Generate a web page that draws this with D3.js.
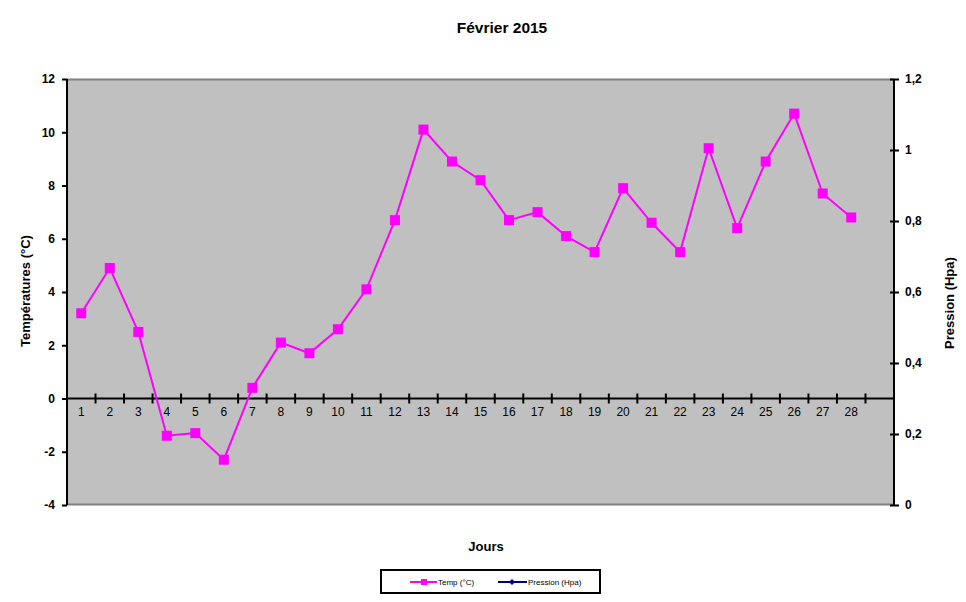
<!DOCTYPE html>
<html><head><meta charset="utf-8">
<script src="https://cdn.jsdelivr.net/npm/d3@7"></script>
<style>body{margin:0;background:#fff}svg{display:block}text{font-family:"Liberation Sans",Arial,sans-serif}</style>
</head><body>
<svg id="c" width="966" height="602"></svg>
<script>
const days = ["1","2","3","4","5","6","7","8","9","10","11","12","13","14","15","16","17","18","19","20","21","22","23","24","25","26","27","28",""];
const temp = [3.2,4.9,2.5,-1.4,-1.3,-2.3,0.4,2.1,1.7,2.6,4.1,6.7,10.1,8.9,8.2,6.7,7.0,6.1,5.5,7.9,6.6,5.5,9.4,6.4,8.9,10.7,7.7,6.8];
const pression = [];
const leftTicks = [-4,-2,0,2,4,6,8,10,12];
const rightTicks = [0,0.2,0.4,0.6,0.8,1,1.2];
const title = "Février 2015";

const svg = d3.select("#c");
const L=67,R=894,T=79,B=505;
const x = d3.scaleBand().domain(days.map((d,i)=>i)).range([L,R]);
const y = d3.scaleLinear().domain([-4,12]).range([B,T]);
const y2 = d3.scaleLinear().domain([0,1.2]).range([B,T]);

svg.append("rect").attr("x",L).attr("y",T).attr("width",R-L).attr("height",B-T).attr("fill","#c0c0c0");
svg.append("line").attr("x1",L).attr("x2",R).attr("y1",T+0.5).attr("y2",T+0.5).attr("stroke","#808080").attr("stroke-width",2);
svg.append("line").attr("x1",L).attr("x2",R).attr("y1",B-0.5).attr("y2",B-0.5).attr("stroke","#808080").attr("stroke-width",2);

// left axis
const gl = svg.append("g").attr("transform",`translate(${L},0)`)
  .call(d3.axisLeft(y).tickValues(leftTicks).tickSize(5).tickPadding(7).tickFormat(d=>d));
gl.select(".domain").attr("stroke","#000").attr("stroke-width",2).attr("d",`M0,${T}V${B}`);
gl.selectAll(".tick line").attr("stroke","#000").attr("stroke-width",2);
gl.selectAll(".tick text").attr("font-size",12).attr("font-weight","bold").attr("fill","#000").attr("font-family","Liberation Sans, Arial");

// right axis
const gr = svg.append("g").attr("transform",`translate(${R},0)`)
  .call(d3.axisRight(y2).tickValues(rightTicks).tickSize(5).tickPadding(6).tickFormat(d=>String(d).replace(".",",")));
gr.select(".domain").attr("stroke","#000").attr("stroke-width",2).attr("d",`M0,${T}V${B}`);
gr.selectAll(".tick line").attr("stroke","#000").attr("stroke-width",2).attr("x1",-4).attr("x2",5);
gr.selectAll(".tick text").attr("font-size",12).attr("font-weight","bold").attr("fill","#000").attr("font-family","Liberation Sans, Arial");

// x axis at 0
const y0 = y(0);
const gx = svg.append("g").attr("transform",`translate(0,${y0})`)
  .call(d3.axisBottom(x).tickSize(0).tickPadding(9).tickFormat(i=>days[i]));
gx.select(".domain").attr("stroke","#000").attr("stroke-width",2).attr("d",`M${L},0H${R}`);
gx.selectAll(".tick text").attr("font-size",12).attr("fill","#000").attr("font-family","Liberation Sans, Arial");
days.forEach((d,i)=>{ if(i>0) svg.append("line").attr("x1",x(i)).attr("x2",x(i)).attr("y1",y0-5).attr("y2",y0+5).attr("stroke","#000").attr("stroke-width",2); });

// line
const line = d3.line().x((d,i)=>x(i)+x.bandwidth()/2).y(d=>y(d));
svg.append("path").datum(temp).attr("d",line).attr("fill","none").attr("stroke","#ff00ff").attr("stroke-width",2);
svg.selectAll("rect.m").data(temp).enter().append("rect").attr("class","m")
  .attr("x",(d,i)=>x(i)+x.bandwidth()/2-5).attr("y",d=>y(d)-5).attr("width",10).attr("height",10).attr("fill","#ff00ff");

// texts
svg.append("text").attr("x",502).attr("y",33).attr("text-anchor","middle").attr("font-size",15.5).attr("font-weight","bold").text(title);
svg.append("text").attr("x",486).attr("y",551).attr("text-anchor","middle").attr("font-size",13).attr("font-weight","bold").text("Jours");
svg.append("text").attr("transform","translate(30,291) rotate(-90)").attr("text-anchor","middle").attr("font-size",13).attr("font-weight","bold").text("Températures (°C)");
svg.append("text").attr("transform","translate(954,303) rotate(-90)").attr("text-anchor","middle").attr("font-size",13).attr("font-weight","bold").text("Pression (Hpa)");

// legend
svg.append("rect").attr("x",381).attr("y",570).attr("width",219).attr("height",23).attr("fill","#fff").attr("stroke","#000").attr("stroke-width",2);
svg.append("line").attr("x1",410).attr("x2",437).attr("y1",582).attr("y2",582).attr("stroke","#ff00ff").attr("stroke-width",2);
svg.append("rect").attr("x",421).attr("y",579).attr("width",6).attr("height",6).attr("fill","#ff00ff");
svg.append("text").attr("x",438).attr("y",585).attr("font-size",8).text("Temp (°C)");
svg.append("line").attr("x1",498).attr("x2",527).attr("y1",582).attr("y2",582).attr("stroke","#000080").attr("stroke-width",2);
svg.append("path").attr("d","M512,579L515,582L512,585L509,582Z").attr("fill","#000080");
svg.append("text").attr("x",528).attr("y",585).attr("font-size",8).text("Pression (Hpa)");
</script>
</body></html>
